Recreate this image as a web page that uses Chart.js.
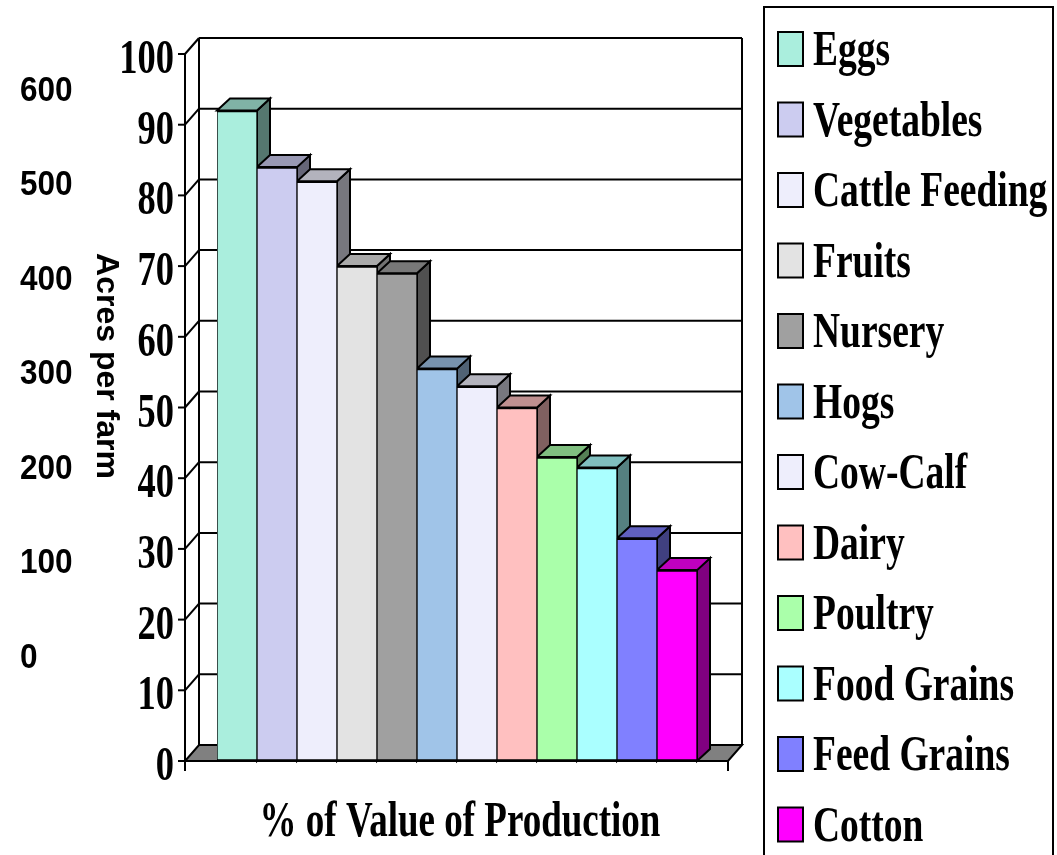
<!DOCTYPE html>
<html>
<head>
<meta charset="utf-8">
<script src="https://cdn.jsdelivr.net/npm/chart.js@4/dist/chart.umd.min.js"></script>
<style>
  html, body { margin: 0; padding: 0; background: #fff; }
  #wrap { width: 1057px; height: 855px; }
</style>
</head>
<body>
<div id="wrap"><canvas id="farmChart" width="1057" height="855"></canvas></div>
<script>
// data
var categories = ['Eggs', 'Vegetables', 'Cattle Feeding', 'Fruits', 'Nursery', 'Hogs',
                  'Cow-Calf', 'Dairy', 'Poultry', 'Food Grains', 'Feed Grains', 'Cotton'];
var valueShare = [92, 84, 82, 70, 69, 55.5, 53, 50, 43, 41.5, 31.5, 27];
var shareTicks = [0, 10, 20, 30, 40, 50, 60, 70, 80, 90, 100];
var acresTicks = [0, 100, 200, 300, 400, 500, 600];
var yTitle = 'Acres per farm';
var xTitle = '% of Value of Production';

// styles
var frontColors = ['#AAEEDD', '#CCCCF0', '#EEEEFC', '#E3E3E3', '#A0A0A0', '#A0C4E8',
                   '#EEEEFC', '#FFC0C0', '#AAFFAA', '#AAFFFF', '#8080FF', '#FF00FF'];

function shade(hex, f) {
	var n = parseInt(hex.slice(1), 16);
	var r = Math.round(((n >> 16) & 255) * f);
	var g = Math.round(((n >> 8) & 255) * f);
	var b = Math.round((n & 255) * f);
	return 'rgb(' + r + ',' + g + ',' + b + ')';
}

function poly(ctx, pts, fill) {
	ctx.beginPath();
	ctx.moveTo(pts[0][0], pts[0][1]);
	for (var i = 1; i < pts.length; i++) ctx.lineTo(pts[i][0], pts[i][1]);
	ctx.closePath();
	if (fill) { ctx.fillStyle = fill; ctx.fill(); }
	ctx.stroke();
}

function line(ctx, x1, y1, x2, y2) {
	ctx.beginPath();
	ctx.moveTo(x1, y1);
	ctx.lineTo(x2, y2);
	ctx.stroke();
}

// narrow bold text like the original
function narrowText(ctx, text, x, y, font, sx, align, baseline, rot) {
	ctx.save();
	ctx.font = font;
	ctx.textAlign = align;
	ctx.textBaseline = baseline || 'alphabetic';
	ctx.fillStyle = '#000';
	ctx.translate(x, y);
	if (rot) ctx.rotate(rot);
	ctx.scale(sx, 1);
	ctx.fillText(text, 0, 0);
	ctx.restore();
}

var SERIF = '"Liberation Serif", "Times New Roman", serif';
var SANS = '"Liberation Sans", Arial, sans-serif';

var box3d = {
	id: 'box3d',
	beforeDatasetsDraw: function(chart) {
		var ctx = chart.ctx, a = chart.chartArea, y = chart.scales.y;
		var left = a.left - 32, right = a.right + 31, base = y.getPixelForValue(0), top = y.getPixelForValue(100);
		var dx = 14, dy = -16, bdx = 13, bdy = -12;
		ctx.save();
		ctx.strokeStyle = '#000';
		ctx.lineWidth = 2;
		ctx.lineJoin = 'miter';

		// floor
		poly(ctx, [[left, base], [right, base], [right + dx, base + dy], [left + dx, base + dy]], '#808080');

		// back wall grid + side wall diagonals
		shareTicks.forEach(function(v) {
			var py = y.getPixelForValue(v);
			if (v > 0) {
				line(ctx, left, py, left + dx, py + dy);
				line(ctx, left + dx, py + dy, right + dx, py + dy);
			}
			line(ctx, left - 7, py, left, py);
		});
		line(ctx, left + dx, top + dy, left + dx, base + dy);
		line(ctx, right + dx, top + dy, right + dx, base + dy);
		line(ctx, left, top, left, base);

		// bar sides and tops
		var bars = chart.getDatasetMeta(0).data;
		bars.forEach(function(bar, i) {
			var x0 = bar.x - bar.width / 2, x1 = bar.x + bar.width / 2, t = bar.y, b = bar.base;
			poly(ctx, [[x1, t], [x1 + bdx, t + bdy], [x1 + bdx, b + bdy], [x1, b]], shade(frontColors[i], 0.5));
			poly(ctx, [[x0, t], [x1, t], [x1 + bdx, t + bdy], [x0 + bdx, t + bdy]], shade(frontColors[i], 0.75));
		});
		ctx.restore();
	},
	afterDatasetsDraw: function(chart) {
		var ctx = chart.ctx, a = chart.chartArea, y = chart.scales.y, y2 = chart.scales.y2;
		var left = a.left - 32, right = a.right + 31, base = y.getPixelForValue(0);
		ctx.save();
		ctx.strokeStyle = '#000';
		ctx.lineWidth = 2;
		line(ctx, left, base, right, base);
		line(ctx, left, base, left, base + 10);
		line(ctx, right, base, right, base + 10);

		// main axis labels
		shareTicks.forEach(function(v) {
			narrowText(ctx, String(v), left - 11, y.getPixelForValue(v) + 19, 'bold 48px ' + SERIF, 0.76, 'right');
		});
		// acres per farm labels
		acresTicks.forEach(function(v) {
			narrowText(ctx, String(v), 20, y2.getPixelForValue(v), 'bold 35px ' + SANS, 0.9, 'left', 'middle');
		});
		narrowText(ctx, yTitle, 106, 366, 'bold 32px ' + SANS, 1, 'center', 'middle', Math.PI / 2);
		narrowText(ctx, xTitle, 460, 836, 'bold 50px ' + SERIF, 0.74, 'center');

		// legend
		ctx.strokeRect(764, 7, 289, 870);
		categories.forEach(function(name, i) {
			var top = 32 + 70.5 * i;
			ctx.fillStyle = frontColors[i];
			ctx.fillRect(778, top, 25, 34);
			ctx.strokeRect(778, top, 25, 34);
			narrowText(ctx, name, 813, top + 33, 'bold 50px ' + SERIF, 0.75, 'left');
		});
		ctx.restore();
	}
};

var chart = new Chart(document.getElementById('farmChart').getContext('2d'), {
	type: 'bar',
	data: {
		labels: categories,
		datasets: [{
			label: xTitle,
			data: valueShare,
			backgroundColor: frontColors,
			borderColor: '#000',
			borderWidth: { top: 2, bottom: 2, left: 1, right: 1 },
			borderSkipped: false,
			barPercentage: 1,
			categoryPercentage: 1
		}]
	},
	options: {
		responsive: false,
		animation: false,
		devicePixelRatio: 1,
		layout: { padding: { left: 217, right: 360, top: 54, bottom: 94 } },
		plugins: { legend: { display: false }, tooltip: { enabled: false } },
		scales: {
			x: { display: false },
			y: { display: false, min: 0, max: 100 },
			y2: { type: 'linear', display: false, position: 'left', min: -109, max: 639 }
		}
	},
	plugins: [box3d]
});
</script>
</body>
</html>
